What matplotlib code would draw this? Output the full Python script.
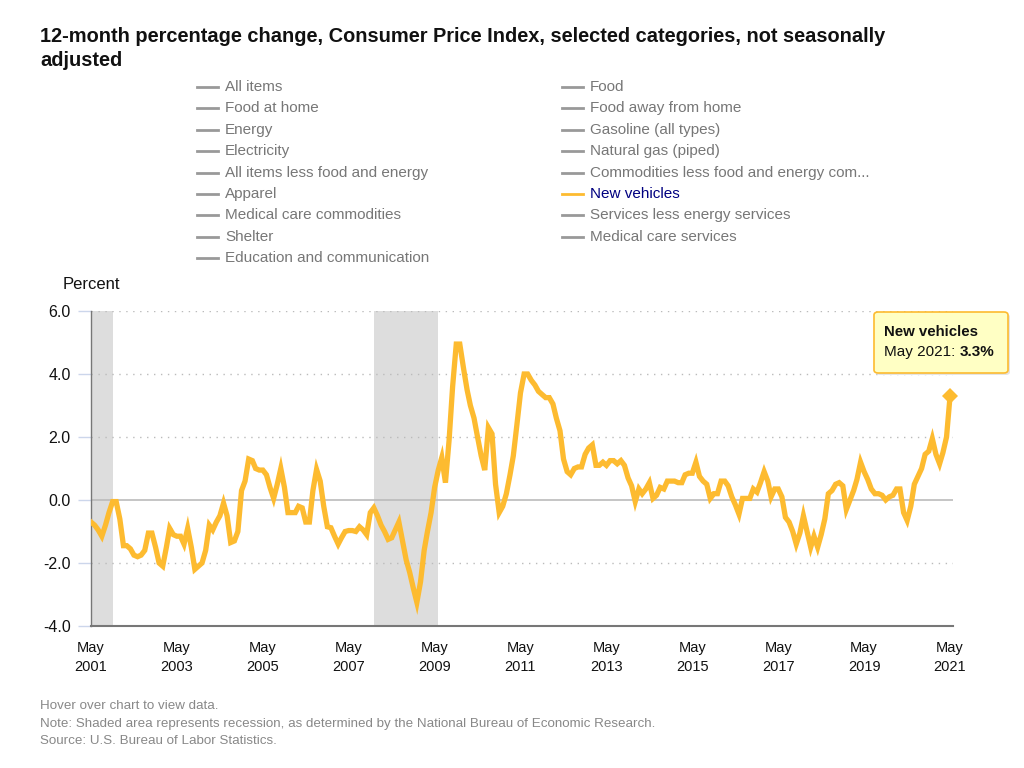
import matplotlib
matplotlib.use("Agg")
import matplotlib.pyplot as plt
from matplotlib.lines import Line2D
from matplotlib.patches import FancyBboxPatch
import pandas as pd
import datetime as dt

plt.rcParams['font.family'] = ['Liberation Sans', 'DejaVu Sans']

# ---- data ----
start_month = "2001-05"
new_vehicles = [
    -0.7, -0.8, -0.95, -1.15, -0.8, -0.4, -0.05, -0.05, -0.6, -1.45, -1.45, -1.55,
    -1.75, -1.8, -1.75, -1.6, -1.05, -1.05, -1.5, -2.0, -2.1, -1.5, -0.9, -1.1,
    -1.15, -1.15, -1.4, -0.9, -1.5, -2.2, -2.1, -2.0, -1.6, -0.8, -0.95, -0.7,
    -0.5, -0.1, -0.5, -1.35, -1.3, -1.0, 0.3, 0.6, 1.3, 1.25, 1.0, 0.95,
    0.95, 0.8, 0.4, 0.05, 0.5, 1.0, 0.4, -0.4, -0.4, -0.4, -0.2, -0.25,
    -0.7, -0.7, 0.3, 0.97, 0.6, -0.2, -0.85, -0.88, -1.15, -1.4, -1.2, -1.0,
    -0.97, -0.97, -1.0, -0.85, -0.95, -1.1, -0.4, -0.25, -0.5, -0.8, -1.0, -1.25,
    -1.2, -0.95, -0.7, -1.3, -1.9, -2.3, -2.8, -3.25, -2.6, -1.6, -1.0, -0.4,
    0.4, 0.95, 1.35, 0.55, 1.9, 3.6, 4.95, 4.95, 4.2, 3.5, 3.0, 2.6,
    2.0, 1.4, 0.95, 2.3, 2.1, 0.5, -0.4, -0.2, 0.2, 0.8, 1.4, 2.4,
    3.4, 4.0, 4.0, 3.8, 3.65, 3.45, 3.35, 3.25, 3.25, 3.05, 2.6, 2.2,
    1.3, 0.9, 0.8, 1.0, 1.05, 1.05, 1.45, 1.65, 1.75, 1.1, 1.1, 1.2,
    1.1, 1.25, 1.25, 1.15, 1.25, 1.1, 0.7, 0.45, -0.05, 0.35, 0.2, 0.35,
    0.55, 0.05, 0.15, 0.4, 0.35, 0.6, 0.6, 0.6, 0.55, 0.55, 0.8, 0.85,
    0.85, 1.2, 0.75, 0.6, 0.5, 0.05, 0.2, 0.2, 0.6, 0.6, 0.45, 0.1,
    -0.15, -0.45, 0.05, 0.05, 0.05, 0.35, 0.25, 0.55, 0.9, 0.6, 0.1, 0.35,
    0.35, 0.1, -0.55, -0.7, -1.0, -1.4, -1.05, -0.5, -1.0, -1.5, -1.15, -1.5,
    -1.1, -0.6, 0.2, 0.3, 0.5, 0.55, 0.45, -0.3, 0.0, 0.3, 0.65, 1.2,
    0.9, 0.65, 0.35, 0.2, 0.2, 0.15, 0.0, 0.1, 0.15, 0.35, 0.35, -0.4,
    -0.65, -0.2, 0.5, 0.75, 1.0, 1.45, 1.55, 1.95, 1.45, 1.15, 1.5, 2.0,
    3.3,
]
recessions = [("2001-03-01", "2001-11-01"), ("2007-12-01", "2009-06-01")]
series_names = [
    "All items", "Food",
    "Food at home", "Food away from home",
    "Energy", "Gasoline (all types)",
    "Electricity", "Natural gas (piped)",
    "All items less food and energy", "Commodities less food and energy com...",
    "Apparel", "New vehicles",
    "Medical care commodities", "Services less energy services",
    "Shelter", "Medical care services",
    "Education and communication",
]
active_series = "New vehicles"
y_ticks = [-4.0, -2.0, 0.0, 2.0, 4.0, 6.0]
x_tick_years = list(range(2001, 2022, 2))

title_lines = ["12-month percentage change, Consumer Price Index, selected categories, not seasonally",
               "adjusted"]
footnotes = [
    "Hover over chart to view data.",
    "Note: Shaded area represents recession, as determined by the National Bureau of Economic Research.",
    "Source: U.S. Bureau of Labor Statistics.",
]

# ---- styling ----
LINE = "#fdbb30"
W, H = 1024, 768
fig = plt.figure(figsize=(W / 100, H / 100), dpi=100)

def fx(px):
    return px / W

def fy(py):
    return 1 - py / H

ax = fig.add_axes([fx(91), fy(626), fx(953) - fx(91), fy(311) - fy(626)])

dates = pd.date_range(start_month, periods=len(new_vehicles), freq="MS")
x0 = dt.datetime(2001, 5, 1)
x1 = dt.datetime(2021, 5, 26)

for a, b in recessions:
    ax.axvspan(max(pd.Timestamp(a), pd.Timestamp(x0)), pd.Timestamp(b), color="#dddddd", lw=0, zorder=0)

for v in y_ticks:
    if v == 0:
        ax.axhline(v, color="#bbbbbb", lw=1.2, zorder=1)
    elif v > y_ticks[0]:
        ax.axhline(v, color="#bbbbbb", lw=1.0, ls=(0, (1, 4)), zorder=1)

ax.plot(dates, new_vehicles, color=LINE, lw=3.8, solid_joinstyle="miter", zorder=3)
ax.plot(dates[-1:], new_vehicles[-1:], marker="D", ms=8.5, color=LINE, mec=LINE, mew=0, zorder=4,
        clip_on=False)

ax.set_xlim(x0, x1)
ax.set_ylim(y_ticks[0], y_ticks[-1])
ax.set_yticks(y_ticks)
ax.set_yticklabels([f"{v:.1f}" for v in y_ticks])
ax.set_xticks([dt.datetime(y, 5, 1) for y in x_tick_years])
ax.set_xticklabels([f"May\n{y}" for y in x_tick_years])

for s in ["top", "right"]:
    ax.spines[s].set_visible(False)
ax.spines["left"].set_color("#777777")
ax.spines["left"].set_linewidth(1.0)
ax.spines["bottom"].set_color("#777777")
ax.spines["bottom"].set_linewidth(1.5)
ax.tick_params(axis="y", length=9.5, width=1, color="#ccd6eb", pad=5.2, labelsize=11.5, labelcolor="#111111")
ax.tick_params(axis="x", length=0, pad=11, labelsize=10.5, labelcolor="#111111")
for lab in ax.get_xticklabels():
    lab.set_linespacing(1.45)

# title
for i, line in enumerate(title_lines):
    fig.text(fx(40), fy(37 + i * 24), line, fontsize=14.4, fontweight="bold", va="center", ha="left",
             color="#111111")

# legend (row-wise, two columns)
col_x = [197, 562]
row_y0, row_dy = 87, 21.4
for i, name in enumerate(series_names):
    r, c = divmod(i, 2)
    yy = row_y0 + r * row_dy
    xx = col_x[c]
    active = name == active_series
    fig.add_artist(Line2D([fx(xx), fx(xx + 21)], [fy(yy), fy(yy)],
                          color=LINE if active else "#999999", lw=2, transform=fig.transFigure))
    fig.text(fx(xx + 28), fy(yy), name, fontsize=11, va="center", ha="left",
             color="#000080" if active else "#777777")

fig.text(fx(63), fy(284), "Percent", fontsize=12, va="center", ha="left", color="#111111")

# tooltip
shadow = FancyBboxPatch((fx(876), fy(375)), fx(134), fy(314) - fy(375),
                        boxstyle="round,pad=0,rounding_size=0.004", transform=fig.transFigure,
                        fc="#e4e4e4", ec="none", zorder=5)
fig.add_artist(shadow)
box = FancyBboxPatch((fx(874), fy(373)), fx(134), fy(312) - fy(373),
                     boxstyle="round,pad=0,rounding_size=0.004", transform=fig.transFigure,
                     fc="#ffffc4", ec=LINE, lw=1.2, zorder=6)
fig.add_artist(box)
fig.text(fx(884), fy(332), active_series, fontsize=10.8, fontweight="bold", va="center", ha="left",
         color="#111111", zorder=7)
t1 = fig.text(fx(884), fy(352), f"{dates[-1].strftime('%b %Y')}: ", fontsize=11, va="center",
              ha="left", color="#111111", zorder=7)
fig.canvas.draw()
bb = t1.get_window_extent()
fig.text(bb.x1 / W, fy(352), f"{new_vehicles[-1]:.1f}%", fontsize=11, fontweight="bold",
         va="center", ha="left", color="#111111", zorder=7)

# footnotes
for i, t in enumerate(footnotes):
    fig.text(fx(40), fy(706 + i * 17.5), t, fontsize=9.6, va="center", ha="left", color="#888888")

fig.savefig("out.png", dpi=100, facecolor="white")
